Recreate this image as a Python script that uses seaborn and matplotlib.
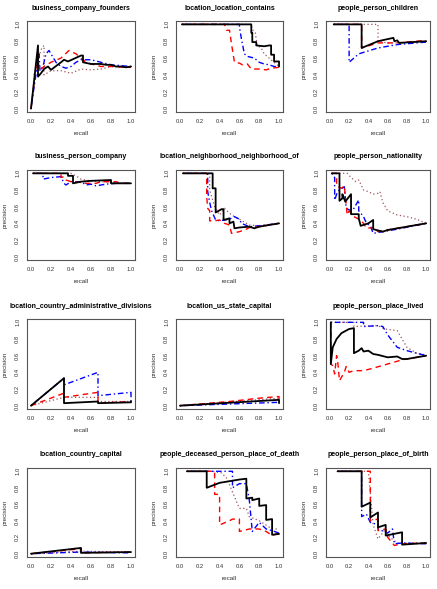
import numpy as np
import pandas as pd
import seaborn as sns
import matplotlib
matplotlib.use("Agg")
import matplotlib.pyplot as plt

sns.set_style("white")
plt.rcParams['font.family'] = ['Liberation Sans', 'DejaVu Sans']

# ---------------- data ----------------
titles = [
    "business_company_founders", "location_location_contains", "people_person_children",
    "business_person_company", "location_neighborhood_neighborhood_of", "people_person_nationality",
    "location_country_administrative_divisions", "location_us_state_capital", "people_person_place_lived",
    "location_country_capital", "people_deceased_person_place_of_death", "people_person_place_of_birth",
]
series_names = ["black", "red", "blue", "dotted"]

# recall / precision per panel, per series
p1_black_r = [0.0, 0.07, 0.07, 0.10, 0.13, 0.17, 0.20, 0.30, 0.33, 0.37, 0.50, 0.52, 0.52, 0.60, 0.70, 0.75, 0.80, 0.85, 0.90, 0.95, 1.0]
p1_black_p = [0.0, 0.75, 0.38, 0.42, 0.47, 0.50, 0.46, 0.55, 0.58, 0.56, 0.63, 0.63, 0.55, 0.53, 0.53, 0.52, 0.52, 0.50, 0.50, 0.49, 0.50]
p1_red_r = [0.0, 0.05, 0.07, 0.08, 0.13, 0.20, 0.30, 0.38, 0.45, 0.50, 0.55, 0.60, 0.70, 0.80, 1.0]
p1_red_p = [0.0, 0.50, 0.67, 0.45, 0.50, 0.55, 0.60, 0.69, 0.65, 0.60, 0.55, 0.53, 0.50, 0.50, 0.49]
p1_blue_r = [0.0, 0.03, 0.08, 0.09, 0.12, 0.15, 0.18, 0.20, 0.25, 0.30, 0.35, 0.40, 0.45, 0.50, 0.60, 0.70, 0.80, 1.0]
p1_blue_p = [0.0, 0.25, 0.65, 0.45, 0.50, 0.65, 0.69, 0.65, 0.55, 0.50, 0.48, 0.50, 0.55, 0.58, 0.58, 0.55, 0.52, 0.50]
p1_dot_r = [0.03, 0.10, 0.13, 0.13, 0.20, 0.30, 0.40, 0.50, 0.60, 0.70, 0.80, 1.0]
p1_dot_p = [0.40, 0.70, 0.75, 0.40, 0.45, 0.45, 0.42, 0.47, 0.46, 0.47, 0.50, 0.49]

p2_black_r = [0.02, 0.72, 0.72, 0.73, 0.73, 0.77, 0.77, 0.85, 0.90, 0.92, 0.92, 0.95, 0.95, 1.0, 1.0]
p2_black_p = [1.0, 1.0, 0.90, 0.90, 0.79, 0.79, 0.75, 0.74, 0.75, 0.75, 0.64, 0.64, 0.56, 0.56, 0.50]
p2_red_r = [0.02, 0.45, 0.47, 0.50, 0.52, 0.55, 0.60, 0.63, 0.68, 0.72, 0.80, 0.87, 0.92, 1.0]
p2_red_p = [1.0, 1.0, 0.93, 0.93, 0.77, 0.55, 0.54, 0.52, 0.53, 0.47, 0.47, 0.46, 0.48, 0.49]
p2_blue_r = [0.02, 0.60, 0.60, 0.62, 0.65, 0.68, 0.75, 0.80, 0.85, 0.90, 0.95, 1.0]
p2_blue_p = [1.0, 1.0, 0.97, 0.83, 0.65, 0.62, 0.60, 0.55, 0.53, 0.52, 0.50, 0.50]
p2_dot_r = [0.02, 0.72, 0.73, 0.76, 0.78, 0.82, 0.85, 0.88, 0.90, 0.95, 1.0]
p2_dot_p = [1.0, 1.0, 0.94, 0.90, 0.75, 0.72, 0.65, 0.62, 0.60, 0.55, 0.50]

p3_black_r = [0.04, 0.33, 0.33, 0.50, 0.66, 0.67, 0.70, 0.72, 1.0]
p3_black_p = [1.0, 1.0, 0.72, 0.80, 0.84, 0.80, 0.81, 0.78, 0.80]
p3_red_r = [0.04, 0.33, 0.33, 0.50, 0.70, 1.0]
p3_red_p = [1.0, 1.0, 0.72, 0.78, 0.78, 0.81]
p3_blue_r = [0.04, 0.20, 0.20, 0.30, 0.50, 0.70, 1.0]
p3_blue_p = [1.0, 1.0, 0.55, 0.65, 0.72, 0.76, 0.79]
p3_dot_r = [0.04, 0.50, 0.50, 0.60, 0.70, 1.0]
p3_dot_p = [1.0, 1.0, 0.80, 0.78, 0.78, 0.80]

p4_black_r = [0.02, 0.37, 0.37, 0.42, 0.42, 0.50, 0.60, 0.80, 0.80, 1.0]
p4_black_p = [1.0, 1.0, 0.97, 0.97, 0.88, 0.90, 0.91, 0.92, 0.88, 0.88]
p4_red_r = [0.02, 0.30, 0.30, 0.33, 0.35, 0.40, 0.50, 0.55, 0.65, 0.70, 0.85, 0.90, 1.0]
p4_red_p = [1.0, 1.0, 0.95, 0.96, 0.92, 0.90, 0.89, 0.88, 0.88, 0.90, 0.90, 0.88, 0.88]
p4_blue_r = [0.02, 0.12, 0.12, 0.20, 0.30, 0.33, 0.35, 0.40, 0.50, 0.55, 0.60, 0.65, 0.75, 0.85, 1.0]
p4_blue_p = [1.0, 1.0, 0.93, 0.95, 0.96, 0.88, 0.86, 0.90, 0.90, 0.86, 0.87, 0.85, 0.87, 0.88, 0.88]
p4_dot_r = [0.02, 0.40, 0.45, 0.50, 0.60, 0.70, 1.0]
p4_dot_p = [1.0, 1.0, 0.97, 0.93, 0.91, 0.90, 0.88]

p5_black_r = [0.03, 0.33, 0.33, 0.36, 0.36, 0.42, 0.44, 0.44, 0.50, 0.50, 0.54, 0.55, 0.60, 0.70, 0.75, 0.80, 0.90, 1.0]
p5_black_p = [1.0, 1.0, 0.82, 0.82, 0.53, 0.57, 0.57, 0.44, 0.46, 0.40, 0.42, 0.34, 0.35, 0.36, 0.34, 0.36, 0.38, 0.40]
p5_red_r = [0.03, 0.27, 0.27, 0.28, 0.30, 0.30, 0.35, 0.40, 0.45, 0.50, 0.52, 0.60, 0.67, 0.70, 0.80, 1.0]
p5_red_p = [1.0, 1.0, 0.72, 0.58, 0.55, 0.43, 0.43, 0.44, 0.40, 0.38, 0.28, 0.30, 0.33, 0.35, 0.36, 0.40]
p5_blue_r = [0.03, 0.28, 0.28, 0.30, 0.32, 0.36, 0.40, 0.50, 0.55, 0.60, 0.62, 0.70, 0.80, 1.0]
p5_blue_p = [1.0, 1.0, 0.78, 0.65, 0.55, 0.44, 0.43, 0.45, 0.48, 0.45, 0.40, 0.36, 0.37, 0.40]
p5_dot_r = [0.03, 0.30, 0.30, 0.35, 0.40, 0.45, 0.50, 0.55, 0.60, 0.70, 0.80, 1.0]
p5_dot_p = [1.0, 1.0, 0.80, 0.60, 0.50, 0.58, 0.52, 0.48, 0.45, 0.38, 0.37, 0.40]

p6_black_r = [0.02, 0.10, 0.10, 0.13, 0.13, 0.16, 0.20, 0.22, 0.22, 0.30, 0.30, 0.32, 0.40, 0.45, 0.45, 0.55, 0.60, 0.70, 0.80, 0.90, 1.0]
p6_black_p = [1.0, 1.0, 0.67, 0.70, 0.75, 0.66, 0.72, 0.75, 0.51, 0.51, 0.46, 0.37, 0.40, 0.44, 0.33, 0.30, 0.32, 0.34, 0.36, 0.38, 0.40]
p6_red_r = [0.02, 0.07, 0.07, 0.12, 0.15, 0.18, 0.20, 0.25, 0.30, 0.35, 0.38, 0.45, 0.50, 0.60, 0.70, 0.80, 1.0]
p6_red_p = [1.0, 1.0, 0.85, 0.82, 0.85, 0.50, 0.55, 0.48, 0.45, 0.40, 0.34, 0.35, 0.30, 0.32, 0.34, 0.36, 0.40]
p6_blue_r = [0.02, 0.05, 0.05, 0.08, 0.10, 0.15, 0.17, 0.22, 0.25, 0.30, 0.30, 0.35, 0.38, 0.42, 0.45, 0.55, 0.70, 1.0]
p6_blue_p = [1.0, 0.95, 0.68, 0.78, 0.80, 0.84, 0.58, 0.55, 0.58, 0.68, 0.55, 0.48, 0.40, 0.37, 0.28, 0.30, 0.33, 0.40]
p6_dot_r = [0.02, 0.18, 0.22, 0.27, 0.30, 0.35, 0.40, 0.45, 0.50, 0.52, 0.55, 0.60, 0.70, 0.80, 0.90, 1.0]
p6_dot_p = [1.0, 1.0, 0.95, 0.90, 0.92, 0.80, 0.78, 0.75, 0.76, 0.78, 0.65, 0.55, 0.50, 0.48, 0.45, 0.40]

p7_black_r = [0.0, 0.33, 0.33, 0.67, 0.67, 1.0, 1.0]
p7_black_p = [0.0, 0.33, 0.03, 0.05, 0.03, 0.04, 0.05]
p7_red_r = [0.0, 0.33, 0.33, 0.67, 0.67, 1.0]
p7_red_p = [0.0, 0.15, 0.10, 0.16, 0.03, 0.05]
p7_blue_r = [0.0, 0.33, 0.33, 0.67, 0.67, 1.0, 1.0]
p7_blue_p = [0.0, 0.33, 0.25, 0.40, 0.12, 0.16, 0.05]
p7_dot_r = [0.0, 0.33, 0.67, 0.67, 1.0]
p7_dot_p = [0.0, 0.10, 0.10, 0.05, 0.05]

p8_black_r = [0.0, 1.0, 1.0]
p8_black_p = [0.0, 0.07, 0.03]
p8_red_r = [0.0, 0.20, 0.50, 0.80, 1.0, 1.0]
p8_red_p = [0.0, 0.02, 0.05, 0.09, 0.11, 0.08]
p8_blue_r = [0.0, 0.50, 1.0]
p8_blue_p = [0.0, 0.02, 0.04]
p8_dot_r = [0.0, 1.0]
p8_dot_p = [0.0, 0.09]

p9_black_r = [0.01, 0.01, 0.03, 0.07, 0.12, 0.20, 0.25, 0.25, 0.30, 0.33, 0.35, 0.40, 0.45, 0.50, 0.60, 0.70, 0.75, 0.80, 0.90, 1.0]
p9_black_p = [1.0, 0.50, 0.70, 0.80, 0.87, 0.92, 0.93, 0.63, 0.66, 0.69, 0.65, 0.66, 0.62, 0.61, 0.58, 0.59, 0.56, 0.56, 0.58, 0.60]
p9_red_r = [0.01, 0.01, 0.03, 0.05, 0.07, 0.08, 0.10, 0.15, 0.17, 0.20, 0.25, 0.35, 0.45, 0.60, 0.75, 0.85, 1.0]
p9_red_p = [1.0, 0.50, 0.48, 0.38, 0.60, 0.55, 0.30, 0.40, 0.47, 0.40, 0.42, 0.42, 0.45, 0.50, 0.55, 0.57, 0.60]
p9_blue_r = [0.01, 0.35, 0.35, 0.50, 0.55, 0.60, 0.70, 0.80, 0.90, 1.0]
p9_blue_p = [1.0, 1.0, 0.95, 0.96, 0.95, 0.85, 0.70, 0.66, 0.63, 0.60]
p9_dot_r = [0.01, 0.25, 0.25, 0.50, 0.57, 0.70, 0.80, 0.90, 1.0]
p9_dot_p = [1.0, 1.0, 0.95, 0.96, 0.92, 0.90, 0.70, 0.63, 0.61]

p10_black_r = [0.0, 0.50, 0.50, 1.0]
p10_black_p = [0.0, 0.07, 0.01, 0.02]
p10_red_r = [0.0, 0.50, 0.50, 1.0]
p10_red_p = [0.0, 0.06, 0.01, 0.02]
p10_blue_r = [0.0, 0.50, 1.0]
p10_blue_p = [0.0, 0.02, 0.01]
p10_dot_r = [0.0, 0.50, 1.0]
p10_dot_p = [0.0, 0.03, 0.02]

p11_black_r = [0.07, 0.27, 0.27, 0.40, 0.60, 0.67, 0.67, 0.73, 0.73, 0.80, 0.80, 0.87, 0.87, 0.93, 0.93, 1.0]
p11_black_p = [1.0, 1.0, 0.80, 0.86, 0.90, 0.91, 0.67, 0.68, 0.65, 0.67, 0.58, 0.59, 0.41, 0.42, 0.23, 0.24]
p11_red_r = [0.07, 0.35, 0.35, 0.40, 0.40, 0.50, 0.53, 0.60, 0.60, 0.70, 0.80, 0.87, 0.93, 1.0]
p11_red_p = [1.0, 1.0, 0.72, 0.72, 0.35, 0.40, 0.42, 0.42, 0.27, 0.30, 0.30, 0.27, 0.22, 0.25]
p11_blue_r = [0.07, 0.53, 0.53, 0.60, 0.67, 0.70, 0.73, 0.80, 0.87, 0.93, 1.0]
p11_blue_p = [1.0, 1.0, 0.80, 0.85, 0.85, 0.65, 0.27, 0.38, 0.30, 0.28, 0.25]
p11_dot_r = [0.07, 0.33, 0.42, 0.47, 0.60, 0.67, 0.70, 0.80, 0.93, 1.0]
p11_dot_p = [1.0, 1.0, 0.98, 0.92, 0.55, 0.55, 0.45, 0.40, 0.30, 0.30]

p12_black_r = [0.08, 0.33, 0.33, 0.42, 0.42, 0.50, 0.50, 0.58, 0.58, 0.75, 0.75, 1.0]
p12_black_p = [1.0, 1.0, 0.57, 0.62, 0.44, 0.50, 0.32, 0.35, 0.22, 0.26, 0.11, 0.13]
p12_red_r = [0.08, 0.42, 0.42, 0.50, 0.50, 0.58, 0.60, 0.67, 0.75, 1.0]
p12_red_p = [1.0, 1.0, 0.40, 0.42, 0.28, 0.30, 0.20, 0.10, 0.12, 0.13]
p12_blue_r = [0.08, 0.33, 0.33, 0.38, 0.42, 0.50, 0.50, 0.60, 0.65, 0.67, 0.75, 1.0]
p12_blue_p = [1.0, 1.0, 0.45, 0.48, 0.38, 0.35, 0.30, 0.25, 0.30, 0.12, 0.13, 0.12]
p12_dot_r = [0.08, 0.40, 0.45, 0.50, 0.58, 0.60, 0.70, 1.0]
p12_dot_p = [1.0, 1.0, 0.35, 0.18, 0.30, 0.22, 0.13, 0.13]

panels = [
    [(p1_black_r, p1_black_p), (p1_red_r, p1_red_p), (p1_blue_r, p1_blue_p), (p1_dot_r, p1_dot_p)],
    [(p2_black_r, p2_black_p), (p2_red_r, p2_red_p), (p2_blue_r, p2_blue_p), (p2_dot_r, p2_dot_p)],
    [(p3_black_r, p3_black_p), (p3_red_r, p3_red_p), (p3_blue_r, p3_blue_p), (p3_dot_r, p3_dot_p)],
    [(p4_black_r, p4_black_p), (p4_red_r, p4_red_p), (p4_blue_r, p4_blue_p), (p4_dot_r, p4_dot_p)],
    [(p5_black_r, p5_black_p), (p5_red_r, p5_red_p), (p5_blue_r, p5_blue_p), (p5_dot_r, p5_dot_p)],
    [(p6_black_r, p6_black_p), (p6_red_r, p6_red_p), (p6_blue_r, p6_blue_p), (p6_dot_r, p6_dot_p)],
    [(p7_black_r, p7_black_p), (p7_red_r, p7_red_p), (p7_blue_r, p7_blue_p), (p7_dot_r, p7_dot_p)],
    [(p8_black_r, p8_black_p), (p8_red_r, p8_red_p), (p8_blue_r, p8_blue_p), (p8_dot_r, p8_dot_p)],
    [(p9_black_r, p9_black_p), (p9_red_r, p9_red_p), (p9_blue_r, p9_blue_p), (p9_dot_r, p9_dot_p)],
    [(p10_black_r, p10_black_p), (p10_red_r, p10_red_p), (p10_blue_r, p10_blue_p), (p10_dot_r, p10_dot_p)],
    [(p11_black_r, p11_black_p), (p11_red_r, p11_red_p), (p11_blue_r, p11_blue_p), (p11_dot_r, p11_dot_p)],
    [(p12_black_r, p12_black_p), (p12_red_r, p12_red_p), (p12_blue_r, p12_blue_p), (p12_dot_r, p12_dot_p)],
]
ticks = [0.0, 0.2, 0.4, 0.6, 0.8, 1.0]
tick_labels = ["0.0", "0.2", "0.4", "0.6", "0.8", "1.0"]

# ---------------- styles ----------------
styles = {
    "black": dict(color="black", lw=1.3, ls="-"),
    "red": dict(color="red", lw=1.0, ls=(0, (4, 3))),
    "blue": dict(color="blue", lw=1.0, ls=(0, (1, 2, 4, 2))),
    "dotted": dict(color="#A0525A", lw=0.9, ls=(0, (1, 2))),
}
draw_order = ["dotted", "blue", "red", "black"]

W, H = 437, 589
fig = plt.figure(figsize=(W / 100, H / 100), dpi=100)
fig.patch.set_facecolor("white")

col_x = [(27, 135), (176, 283), (326, 430)]
row_y = [(21, 112), (170, 260), (319, 409), (468, 557)]

for i, title in enumerate(titles):
    r, c = divmod(i, 3)
    x0, x1 = col_x[c]
    y0, y1 = row_y[r]
    ax = fig.add_axes([x0 / W, 1 - y1 / H, (x1 - x0) / W, (y1 - y0) / H])
    for key in draw_order:
        k = series_names.index(key)
        rr, pp = panels[i][k]
        df = pd.DataFrame({"recall": rr, "precision": pp})
        st = styles[key]
        sns.lineplot(data=df, x="recall", y="precision", ax=ax, sort=False,
                     estimator=None, color=st["color"], linewidth=st["lw"],
                     linestyle=st["ls"])
    ax.set_xlim(-0.04, 1.04)
    ax.set_ylim(-0.04, 1.04)
    ax.set_xticks(ticks)
    ax.set_xticklabels(tick_labels)
    ax.set_yticks(ticks)
    ax.set_yticklabels(tick_labels, rotation=90, va="center")
    ax.tick_params(axis="both", direction="out", length=2.5, width=0.6,
                   colors="#444444", labelsize=4.2, pad=2.5, labelcolor="#333333")
    for sp in ax.spines.values():
        sp.set_color("#555555")
        sp.set_linewidth(0.8)
    ax.set_xlabel("recall", fontsize=4.6, color="#333333", labelpad=5)
    ax.set_ylabel("precision", fontsize=4.6, color="#333333", labelpad=5)
    fig.text(((x0 + x1) / 2) / W, 1 - (y0 - 13) / H, title,
             ha="center", va="center", fontsize=5.0, fontweight="bold",
             color="black")

fig.savefig("out.png", dpi=100, facecolor="white")
